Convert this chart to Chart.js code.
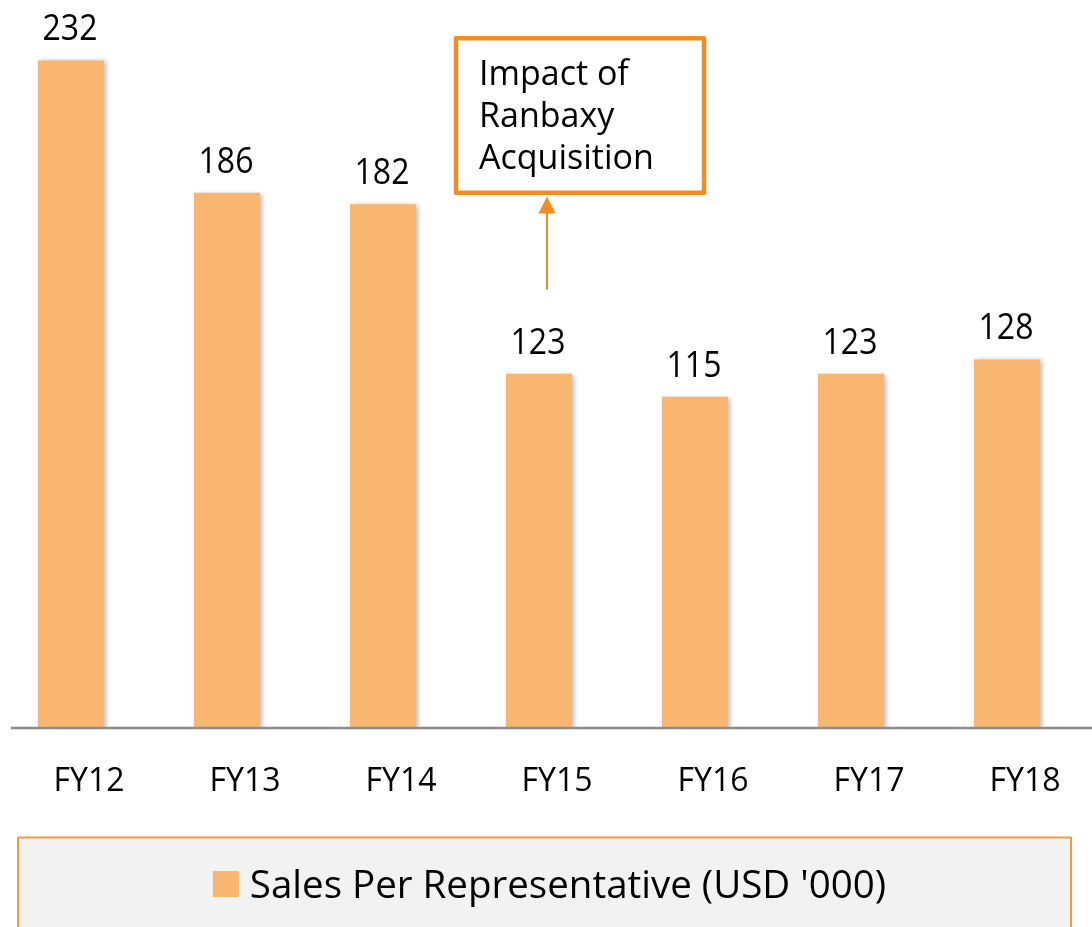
<!DOCTYPE html>
<html>
<head>
<meta charset="utf-8">
<script src="https://cdn.jsdelivr.net/npm/chart.js@4.4.0/dist/chart.umd.min.js"></script>
<style>
  html, body { margin: 0; padding: 0; background: #ffffff; overflow: hidden; }
  #wrap { position: absolute; left: -7px; top: 0; width: 1099px; height: 927px; }
  canvas { display: block; }
</style>
</head>
<body>
<div id="wrap"><canvas id="c" width="1099" height="927"></canvas></div>
<script>
const categories = ['FY12', 'FY13', 'FY14', 'FY15', 'FY16', 'FY17', 'FY18'];
const salesPerRep = [232, 186, 182, 123, 115, 123, 128];
const seriesName = "Sales Per Representative (USD '000)";
const annotationLines = ['Impact of', 'Ranbaxy', 'Acquisition'];
const annotationIndex = 3;

const FONT = '"Open Sans", "Noto Sans", sans-serif';
const BAR = '#F8B671';
const ORANGE = '#F68B1F';

const shadowPlugin = {
  id: 'barShadow',
  beforeDatasetsDraw(chart) {
    const ctx = chart.ctx;
    ctx.save();
    ctx.shadowColor = 'rgba(0,0,0,0.28)';
    ctx.shadowBlur = 5;
    ctx.shadowOffsetX = 2;
    ctx.shadowOffsetY = 1;
  },
  afterDatasetsDraw(chart) {
    chart.ctx.restore();
  }
};

const decorPlugin = {
  id: 'decor',
  afterDraw(chart) {
    const ctx = chart.ctx;
    const xs = chart.scales.x, ys = chart.scales.y;
    const base = ys.getPixelForValue(0);
    // axis line
    ctx.save();
    ctx.strokeStyle = '#8C8C8C';
    ctx.lineWidth = 2.5;
    ctx.beginPath();
    ctx.moveTo(18, base + 0.5);
    ctx.lineTo(chart.width, base + 0.5);
    ctx.stroke();

    // value labels
    ctx.fillStyle = '#000';
    ctx.font = '32px ' + FONT;
    ctx.textAlign = 'center';
    ctx.textBaseline = 'alphabetic';
    const meta = chart.getDatasetMeta(0);
    meta.data.forEach((bar, i) => {
      ctx.save();
      ctx.translate(bar.x - 1, bar.y - 20);
      ctx.scale(1, 1.15);
      ctx.fillText(String(salesPerRep[i]), 0, 0);
      ctx.restore();
    });

    // annotation box + arrow
    const cx = xs.getPixelForValue(annotationIndex);
    const arrowX = cx + 8;
    const boxL = cx - 83, boxR = cx + 165;
    const boxT = ys.getPixelForValue(239.7), boxB = ys.getPixelForValue(186);
    ctx.strokeStyle = ORANGE;
    ctx.lineWidth = 4.5;
    ctx.lineJoin = 'round';
    ctx.strokeRect(boxL, boxT, boxR - boxL, boxB - boxT);
    ctx.fillStyle = '#000';
    ctx.textAlign = 'left';
    ctx.font = '34px ' + FONT;
    annotationLines.forEach((t, k) => {
      ctx.fillText(t, boxL + 23, boxT + 47 + k * 42);
    });
    const tipY = ys.getPixelForValue(184.7);
    const tailY = ys.getPixelForValue(152.3);
    ctx.lineWidth = 2;
    ctx.beginPath();
    ctx.moveTo(arrowX, tailY);
    ctx.lineTo(arrowX, tipY + 14);
    ctx.stroke();
    ctx.fillStyle = ORANGE;
    ctx.beginPath();
    ctx.moveTo(arrowX, tipY);
    ctx.lineTo(arrowX - 8.5, tipY + 17);
    ctx.lineTo(arrowX + 8.5, tipY + 17);
    ctx.closePath();
    ctx.fill();

    // legend box
    const lgL = 25, lgR = 1078, lgT = 837.5;
    ctx.fillStyle = '#F2F2F2';
    ctx.fillRect(lgL, lgT, lgR - lgL, chart.height - lgT + 5);
    ctx.strokeStyle = '#F79A3C';
    ctx.lineWidth = 2;
    ctx.strokeRect(lgL, lgT, lgR - lgL, chart.height - lgT + 5);
    ctx.font = '38.5px ' + FONT;
    const tw = ctx.measureText(seriesName).width;
    const groupW = 25 + 12 + tw;
    const gx = (lgL + lgR) / 2 + 5 - groupW / 2;
    ctx.fillStyle = BAR;
    ctx.fillRect(gx, 871, 26, 26);
    ctx.fillStyle = '#000';
    ctx.textAlign = 'left';
    ctx.fillText(seriesName, gx + 37, 898);
    ctx.restore();
  }
};

new Chart(document.getElementById('c'), {
  type: 'bar',
  data: {
    labels: categories,
    datasets: [{
      label: seriesName,
      data: salesPerRep,
      backgroundColor: BAR,
      borderWidth: 0,
      barPercentage: 66 / 156,
      categoryPercentage: 1.0
    }]
  },
  options: {
    responsive: false,
    animation: false,
    events: [],
    layout: { padding: { left: 0, right: 7, top: 0, bottom: 91 } },
    plugins: { legend: { display: false }, tooltip: { enabled: false } },
    scales: {
      x: {
        offset: true,
        grid: { display: false, drawTicks: false },
        border: { display: false },
        ticks: {
          color: '#000',
          padding: 35,
          labelOffset: 18,
          font: { family: FONT, size: 32 },
          maxRotation: 0
        }
      },
      y: {
        display: false,
        min: 0,
        max: 253
      }
    }
  },
  plugins: [shadowPlugin, decorPlugin]
});
</script>
</body>
</html>
